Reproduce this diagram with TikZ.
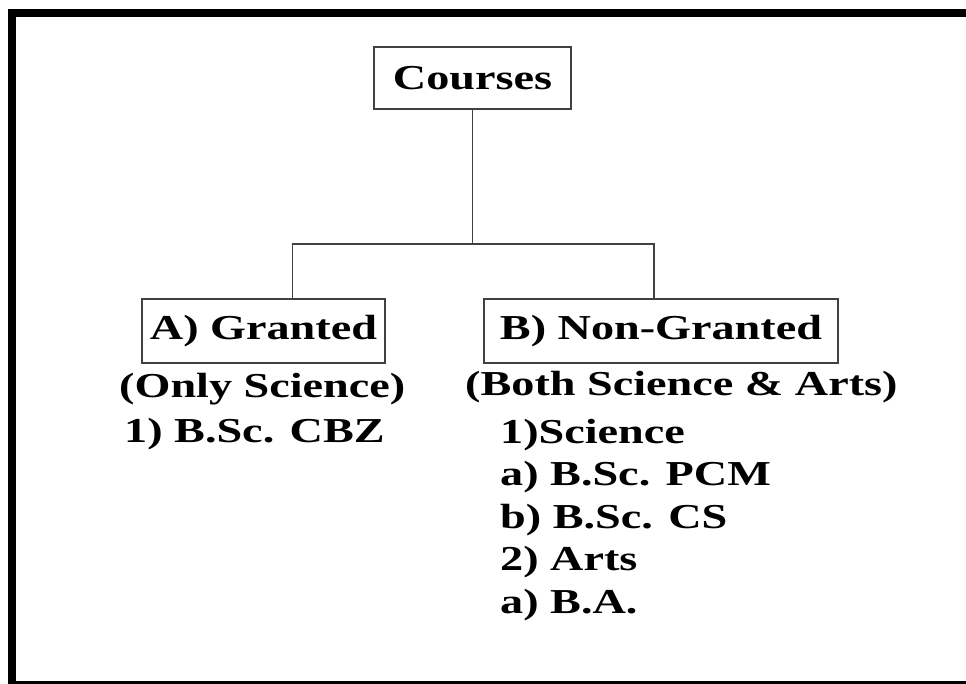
\documentclass[tikz,border=0pt]{standalone}
\usepackage{fontspec}
\setmainfont{Liberation Serif}[FakeStretch=1.32]
\usetikzlibrary{calc}
\begin{document}
\begin{tikzpicture}[x=1pt, y=-1pt,
    every node/.style={font=\fontsize{35}{42.5}\selectfont\bfseries},
    course/.style={draw=black!75, line width=1.3pt, inner sep=0pt},
    info/.style={anchor=base west, inner sep=0pt},
    link/.style={draw=black!75, line width=1.3pt}]
        \useasboundingbox (0,0) rectangle (966,684);
        \draw[line width=8pt] (12,13.3) rectangle (1000,685);

        \node[course, minimum width=197pt, minimum height=62pt] (courses) at (472.5,78) {Courses};
        \node[course, minimum width=243pt, minimum height=64pt] (granted) at (263.5,331) {A) Granted};
        \node[course, minimum width=354pt, minimum height=64pt] (nongranted) at (661,331) {B) Non-Granted};

        \node[info] (onlysci) at (119,397) {(Only Science)};
        \node[info] (cbz) at (124,442) {1) B.Sc. CBZ};
        \node[info] (bothsci) at (465,395) {(Both Science \& Arts)};
        % base of a multi-line node sits on its last line
        \node[info, align=left] (ngcourses) at (500,613) {1)Science\\a) B.Sc. PCM\\b) B.Sc. CS\\2) Arts\\a) B.A.};

        \coordinate (fork) at (courses.south |- 0,244);
        \coordinate (dropA) at ($(granted.north west)!0.62!(granted.north east)$);
        \coordinate (dropB) at ($(nongranted.north west)!0.48!(nongranted.north east)$);
        \path[link] (courses.south) -- (fork);
        \path[link] (dropA) |- (fork) -| (dropB);
      \end{tikzpicture}
\end{document}
